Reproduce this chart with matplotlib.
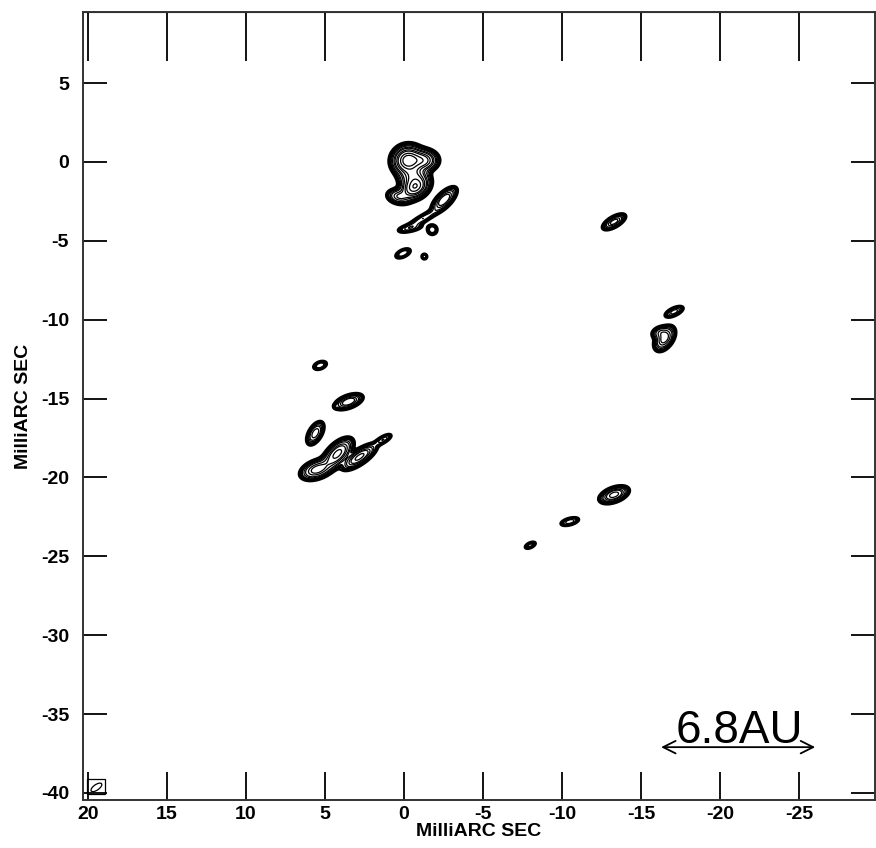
import numpy as np
import matplotlib.pyplot as plt
from matplotlib.patches import Rectangle, Ellipse

# Maser spot components (relative RA/Dec offsets in mas)
comp_x = [-0.25, -1.2, -0.6, -0.7, 0.3, -2.55, -1.2, -0.4, -1.8, 0.05, -1.3,
          -13.3, -17.1, -16.5, -16.2, 5.3, 3.5, 4.3, 5.6, 5.5, 4.2, 2.8, 1.3,
          -13.3, -10.5, -8.0]
comp_y = [0.1, 0.1, -0.9, -1.6, -2.2, -2.4, -3.6, -4.2, -4.3, -5.8, -6.0,
          -3.8, -9.5, -11.2, -10.8, -12.9, -15.2, -15.5, -17.2, -19.5, -18.5, -18.7, -17.6,
          -21.1, -22.8, -24.3]
comp_peak = [40, 20, 15, 30, 8, 12, 4, 3, 3, 3, 2,
             10, 5, 10, 5, 3, 12, 1.5, 8, 10, 14, 14, 4,
             15, 4, 2.5]
comp_major = [0.45, 0.45, 0.45, 0.45, 0.4, 0.5, 0.7, 0.5, 0.22, 0.35, 0.15,
              0.4, 0.36, 0.45, 0.3, 0.3, 0.45, 0.08, 0.42, 0.55, 0.6, 0.6, 0.35,
              0.45, 0.36, 0.27]
comp_minor = [0.42, 0.33, 0.4, 0.33, 0.25, 0.22, 0.15, 0.15, 0.22, 0.17, 0.15,
              0.17, 0.15, 0.27, 0.2, 0.17, 0.2, 0.08, 0.22, 0.3, 0.3, 0.22, 0.13,
              0.22, 0.14, 0.13]
comp_pa = [20, 0, 0, 30, -10, 45, 30, 10, 0, 25, 0,
           30, 25, 55, 20, 20, 20, 0, 60, 20, 45, 35, 30,
           20, 15, 25]

contour_levels = [1, 1.5, 2, 3, 4, 6, 8, 12, 16, 24, 32]

xt = [20, 15, 10, 5, 0, -5, -10, -15, -20, -25]
yt = [5, 0, -5, -10, -15, -20, -25, -30, -35, -40]

# build the brightness map from the components
X, Y = np.meshgrid(np.linspace(20.5, -30.0, 1010), np.linspace(-40.6, 9.7, 1000))
Z = np.zeros_like(X)
for x0, y0, a, sa, sb, pa in zip(comp_x, comp_y, comp_peak, comp_major, comp_minor, comp_pa):
    t = np.radians(pa)
    u = -(X - x0)
    v = Y - y0
    p = u * np.cos(t) + v * np.sin(t)
    q = -u * np.sin(t) + v * np.cos(t)
    Z += a * np.exp(-0.5 * (p**2 / sa**2 + q**2 / sb**2))

plt.rcParams['font.family'] = ['Liberation Sans', 'DejaVu Sans']

fig = plt.figure(figsize=(8.76, 8.48), dpi=100)
ax = fig.add_axes([0.0947, 0.0566, 0.904, 0.9292])

lws = [1.9, 1.6, 1.4] + [0.9] * (len(contour_levels) - 3)
ax.contour(X, Y, Z, levels=contour_levels, colors='black', linewidths=lws)

ax.set_xlim(20.3, -29.8)
ax.set_ylim(-40.45, 9.5)
ax.set_xticks(xt)
ax.set_yticks(yt)
ax.set_xticklabels([str(v) for v in xt], fontweight='bold', fontsize=14)
ax.set_yticklabels([str(v) for v in yt], fontweight='bold', fontsize=14)
ax.tick_params(axis='x', direction='in', length=20, width=1.3, bottom=True, top=False, pad=4)
ax.tick_params(axis='y', direction='in', length=17, width=1.3, left=True, right=True, pad=10)
for s in ax.spines.values():
    s.set_linewidth(1.4)
    s.set_color('#333333')

# longer ticks along the top edge
top = ax.secondary_xaxis('top')
top.set_xticks(xt)
top.tick_params(direction='in', length=35, width=1.3, labeltop=False)

ax.set_xlabel('MilliARC SEC', fontweight='bold', fontsize=14, labelpad=0)
ax.set_ylabel('MilliARC SEC', fontweight='bold', fontsize=14, labelpad=6)

# beam
ax.add_patch(Rectangle((18.9, -40.1), 1.15, 0.95, fill=False, lw=0.9, ec='black'))
ax.add_patch(Ellipse((19.45, -39.65), 0.8, 0.35, angle=-35, fill=False, lw=0.9, ec='black'))

# linear scale bar
ax.annotate('', xy=(-26.2, -37.1), xytext=(-16.1, -37.1),
            arrowprops=dict(arrowstyle='<->,head_length=0.9,head_width=0.45', lw=1.3, color='black'))
ax.text(-21.2, -36.85, '6.8AU', ha='center', va='baseline', fontsize=33)

fig.savefig('out.png', dpi=100)
